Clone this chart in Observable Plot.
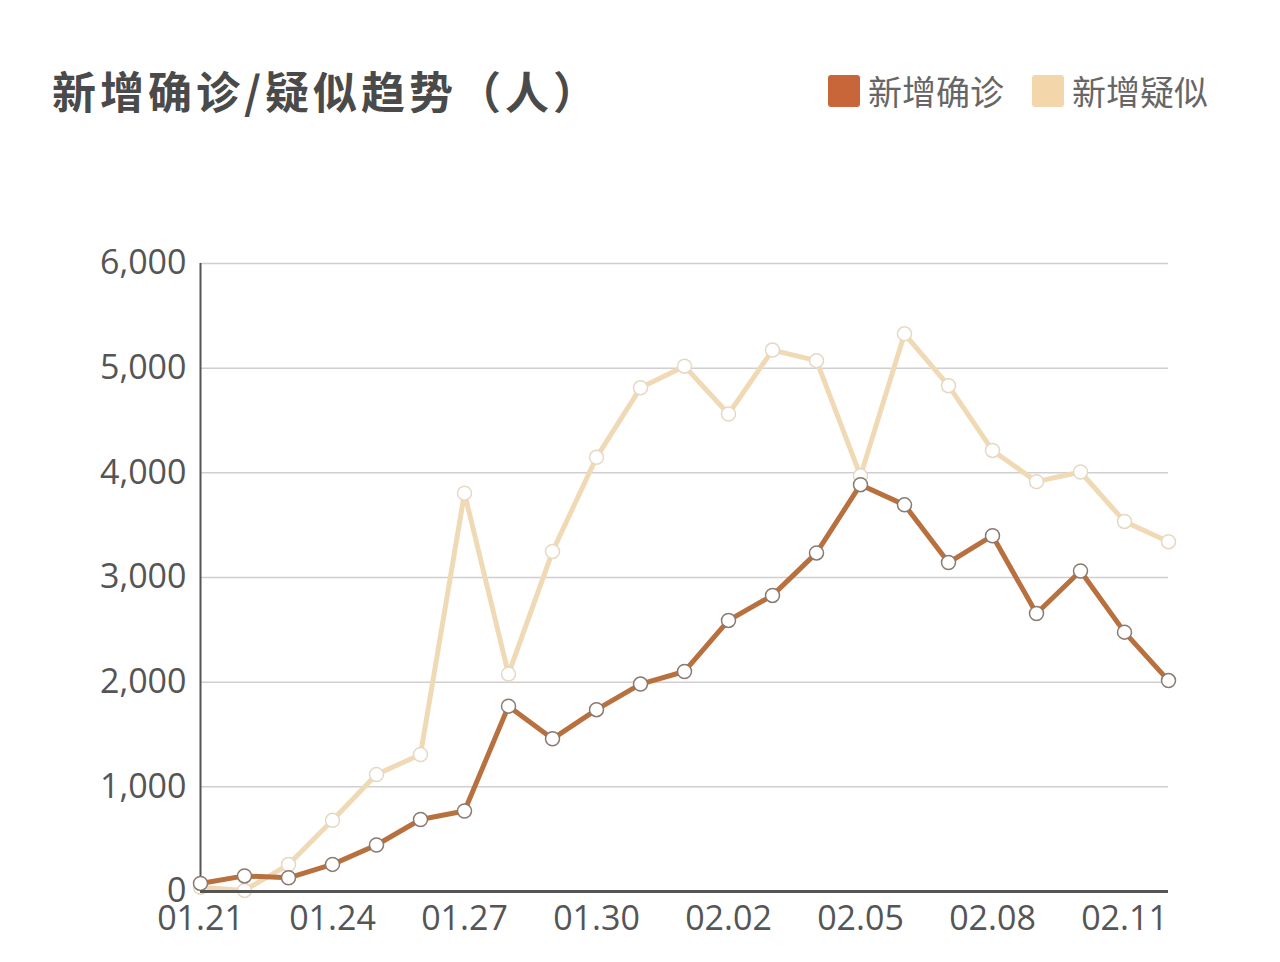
<!DOCTYPE html>
<html><head><meta charset="utf-8">
<script src="https://cdn.jsdelivr.net/npm/d3@7"></script>
<script src="https://cdn.jsdelivr.net/npm/@observablehq/plot@0.6"></script>
<style>
html,body{margin:0;padding:0;background:#fff;}
#wrap{position:relative;width:1280px;height:962px;overflow:hidden;font-family:"Noto Sans CJK SC",sans-serif;}
#title{position:absolute;left:52px;top:60px;font-size:44px;font-weight:700;color:#4a4a4a;letter-spacing:4px;line-height:60px;white-space:nowrap;}
#legend{position:absolute;left:828px;top:68px;display:flex;align-items:center;font-size:34px;color:#666;line-height:46px;}
.sw{width:32px;height:32px;border-radius:3px;display:inline-block;margin-right:8px;}
.item{display:flex;align-items:center;margin-right:28px;}
#chart{position:absolute;left:0;top:200px;}
</style></head>
<body><div id="wrap">
<div id="title">新增确诊/疑似趋势（人）</div>
<div id="legend"></div>
<div id="chart"></div>
</div>
<script>
const dates = ["01.21","01.22","01.23","01.24","01.25","01.26","01.27","01.28","01.29","01.30","01.31","02.01","02.02","02.03","02.04","02.05","02.06","02.07","02.08","02.09","02.10","02.11","02.12"];
const confirmed = [77,149,131,259,444,688,769,1771,1459,1737,1982,2102,2590,2829,3235,3887,3694,3143,3399,2656,3062,2478,2015];
const suspected = [40,10,257,680,1118,1309,3806,2077,3248,4148,4812,5019,4562,5173,5072,3971,5328,4833,4214,3916,4008,3536,3342];
const xTicks = ["01.21","01.24","01.27","01.30","02.02","02.05","02.08","02.11"];
const yTicks = [0,1000,2000,3000,4000,5000,6000];
const seriesNames = ["新增确诊","新增疑似"];
const lineColors = ["#b8703f","#f0dab6"];
const swatchColors = ["#c8663a","#f3d6a9"];
const pointStrokes = ["#8a7a70","#e6d8c4"];

const parse = s => new Date(Date.UTC(2020, +s.slice(0,2)-1, +s.slice(3,5)));
const rowsC = dates.map((d,i)=>({date:parse(d), v:confirmed[i]}));
const rowsS = dates.map((d,i)=>({date:parse(d), v:suspected[i]}));

const leg = document.getElementById("legend");
seriesNames.forEach((n,i)=>{
  const it = document.createElement("div"); it.className="item";
  const sw = document.createElement("span"); sw.className="sw"; sw.style.background=swatchColors[i];
  it.appendChild(sw); it.appendChild(document.createTextNode(n)); leg.appendChild(it);
});

const fmt = d3.utcFormat("%m.%d");
const chart = Plot.plot({
  width:1280, height:762,
  marginTop:63, marginBottom:71, marginLeft:200, marginRight:112,
  style:{fontFamily:"'Open Sans',sans-serif", fontSize:"34px", color:"#555", background:"#fff"},
  x:{type:"utc", domain:[parse("01.21"), parse("02.12")], ticks:xTicks.map(parse), tickFormat:fmt, tickSize:0, tickPadding:14, label:null},
  y:{domain:[0,6000], ticks:yTicks, tickFormat:d3.format(","), tickSize:0, tickPadding:14, label:null},
  marks:[
    Plot.gridY(yTicks.slice(1), {stroke:"#cfcfcf", strokeOpacity:1, strokeWidth:1.5}),
    Plot.ruleX([parse("01.21")], {y1:0, y2:6000, stroke:"#555", strokeWidth:2}),
    Plot.line(rowsS, {x:"date", y:"v", stroke:lineColors[1], strokeWidth:5}),
    Plot.dot(rowsS, {x:"date", y:"v", r:7, fill:"#fff", stroke:pointStrokes[1], strokeWidth:1.5}),
    Plot.line(rowsC, {x:"date", y:"v", stroke:lineColors[0], strokeWidth:5}),
    Plot.dot(rowsC, {x:"date", y:"v", r:7, fill:"#fff", stroke:pointStrokes[0], strokeWidth:1.5}),
    Plot.ruleY([0], {stroke:"#555", strokeWidth:3})
  ]
});
document.getElementById("chart").appendChild(chart);
</script>
</body></html>
